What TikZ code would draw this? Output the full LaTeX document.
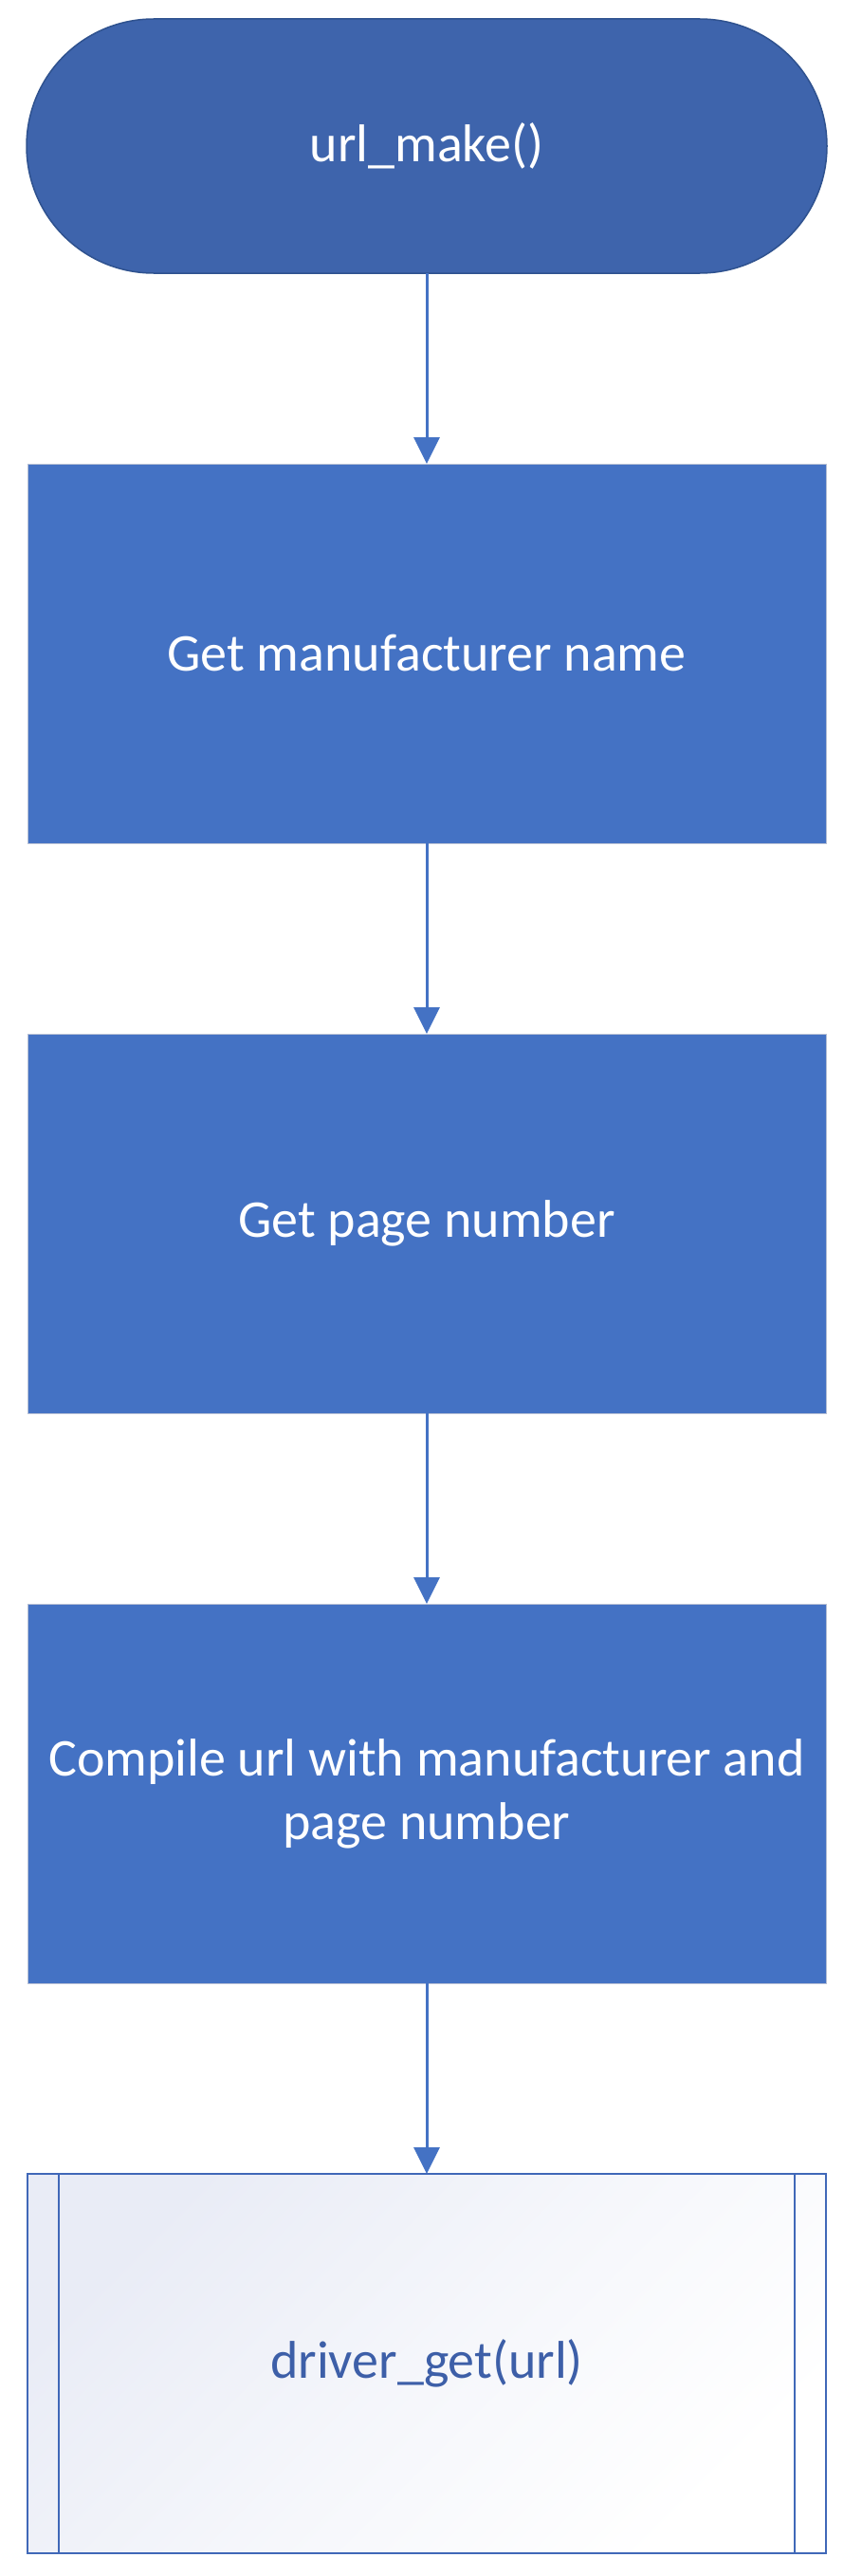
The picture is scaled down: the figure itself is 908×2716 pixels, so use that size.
\documentclass[tikz,border=0pt]{standalone}
\usepackage{fontspec}
\setmainfont{Carlito}
\usetikzlibrary{arrows.meta,shapes.misc}

\definecolor{boxblue}{HTML}{4472C4}
\definecolor{termblue}{HTML}{3E64AC}
\definecolor{termedge}{HTML}{2F528F}
\definecolor{boxedge}{HTML}{B4BED4}
\definecolor{subedge}{HTML}{4068B8}
\definecolor{subtext}{HTML}{3D5FA8}
\definecolor{subshade}{HTML}{E9ECF6}

\tikzset{
  lbl/.style={font=\fontsize{56}{67}\selectfont, align=center},
  terminal/.style={lbl, rounded rectangle, fill=termblue, draw=termedge, line width=1.5pt,
    minimum width=844pt, minimum height=268pt, inner sep=0pt, outer sep=0pt, text=white},
  process/.style={lbl, rectangle, fill=boxblue, draw=boxedge, line width=1pt,
    minimum width=842pt, minimum height=400pt, inner sep=0pt, outer sep=0pt, text=white},
  subproc/.style={lbl, rectangle, draw=subedge, line width=2pt,
    minimum width=842pt, minimum height=400pt, inner sep=0pt, outer sep=0pt, text=subtext},
  flow/.style={draw=boxblue, line width=3pt, -{Triangle[width=27pt,length=28pt]}}
}

\begin{document}
\begin{tikzpicture}[x=1pt,y=-1pt]
  \fill[white] (0,0) rectangle (908,2716);
  \useasboundingbox (0,0) rectangle (908,2716);

  % soft diagonal wash behind the predefined-process box
  \shade[top color=subshade, bottom color=white, middle color=white!55!subshade, shading angle=45]
    (29,2292) rectangle (871,2692);

  \node[terminal] (start) at (450,154) {url\_make()};
  \node[process]  (manu)  at (450,689) {Get manufacturer name};
  \node[process]  (page)  at (450,1290) {Get page number};
  \node[process]  (comp)  at (450,1891) {Compile url with manufacturer and\\page number};
  \node[subproc]  (drv)   at (450,2492) {driver\_get(url)};

  % side bars of the predefined-process symbol
  \draw[subedge, line width=2pt] ([xshift=33pt]drv.north west) -- ([xshift=33pt]drv.south west);
  \draw[subedge, line width=2pt] ([xshift=-33pt]drv.north east) -- ([xshift=-33pt]drv.south east);

  \draw[flow] (start) -- (manu);
  \draw[flow] (manu) -- (page);
  \draw[flow] (page) -- (comp);
  \draw[flow] (comp) -- (drv);
\end{tikzpicture}
\end{document}
